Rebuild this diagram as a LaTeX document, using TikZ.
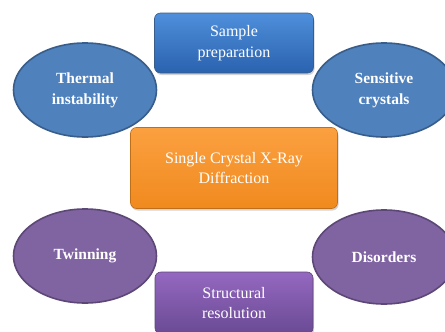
\documentclass[tikz,border=0pt]{standalone}
\usepackage{fontspec}
\setmainfont{Liberation Serif}
\usetikzlibrary{shapes.geometric,shadows}
\definecolor{blueboxtop}{HTML}{4F8FDB}
\definecolor{blueboxbot}{HTML}{2A62AE}
\definecolor{blueell}{HTML}{4F81BD}
\definecolor{blueedge}{HTML}{385D8A}
\definecolor{orangetop}{HTML}{FBA040}
\definecolor{orangebot}{HTML}{F08A1E}
\definecolor{purpletop}{HTML}{9468C0}
\definecolor{purplebot}{HTML}{6A4A94}
\definecolor{purpleell}{HTML}{8064A2}
\definecolor{purpleedge}{HTML}{5C4776}
\begin{document}
\begin{tikzpicture}[x=1pt,y=-1pt,
  boxstyle/.style={rounded corners=6pt, minimum width=#1, text=white, align=center,
    font=\fontsize{16}{20.5}\selectfont, drop shadow={opacity=0.35, shadow xshift=1pt, shadow yshift=-2pt}},
  ellstyle/.style={ellipse, draw=#1, line width=1.6pt, minimum width=143pt, minimum height=94pt,
    text=white, align=center, font=\bfseries\fontsize{15.5}{21}\selectfont, inner sep=0pt}]
\useasboundingbox (0,0) rectangle (445,332);
\node[boxstyle=159pt, minimum height=60pt, top color=blueboxtop, bottom color=blueboxbot, draw=blueedge, line width=0.6pt] (sample) at (234,43) {Sample\\preparation};
\node[ellstyle=blueedge, fill=blueell] (thermal) at (85,90) {Thermal\\instability};
\node[ellstyle=blueedge, fill=blueell] (sensitive) at (384,90) {Sensitive\\crystals};
\node[boxstyle=207pt, minimum height=81pt, top color=orangetop, bottom color=orangebot, draw=orangebot!80!black, line width=0.6pt] (scxrd) at (234,168) {Single Crystal X-Ray\\Diffraction};
\node[ellstyle=purpleedge, fill=purpleell] (twin) at (85,256) {Twinning};
\node[ellstyle=purpleedge, fill=purpleell] (dis) at (384,257) {Disorders};
\node[boxstyle=158pt, minimum height=62pt, top color=purpletop, bottom color=purplebot, draw=purpleedge, line width=0.6pt] (struct) at (234,303) {Structural\\resolution};
\end{tikzpicture}
\end{document}
